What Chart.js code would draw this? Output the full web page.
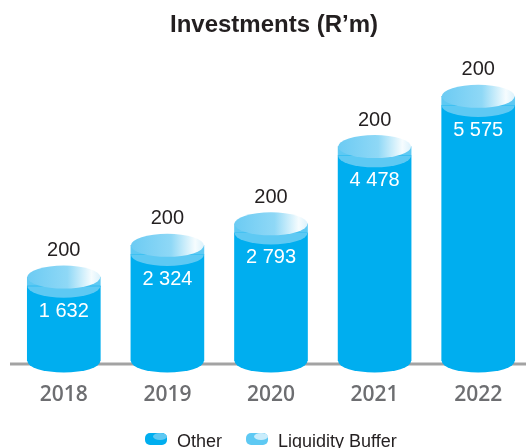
<!DOCTYPE html>
<html>
<head>
<meta charset="utf-8">
<script src="https://cdn.jsdelivr.net/npm/chart.js@4"></script>
<style>
  html,body{margin:0;padding:0;overflow:hidden;background:#fff;}
  #wrap{width:530px;height:448px;}
</style>
</head>
<body>
<div id="wrap"><canvas id="chart" width="530" height="448"></canvas></div>
<script>
const years=['2018','2019','2020','2021','2022'];
const otherValues=[1632,2324,2793,4478,5575];
const bufferValues=[200,200,200,200,200];
const seriesNames=['Other','Liquidity Buffer'];

const dark='#00aeef';
const light='#5ec9f3';
const RY=11.5;

function fmt(n){
    return String(n).replace(/\B(?=(\d{3})+(?!\d))/g,' ');
}

function faceGradient(ctx,x0,x1){
    const g=ctx.createLinearGradient(x0,0,x1,0);
    g.addColorStop(0,'#6ccbf3');
    g.addColorStop(0.55,'#8fd8f6');
    g.addColorStop(0.88,'#f6fcfe');
    g.addColorStop(1,'#dcf2fc');
    return g;
}

// little cylinder used as legend key
function drawKey(ctx,x,y,body,cap){
    ctx.fillStyle=body;
    ctx.beginPath();
    ctx.roundRect(x,y,22,12,5);
    ctx.fill();
    ctx.fillStyle=cap;
    ctx.beginPath();
    ctx.ellipse(x+15,y+3.5,7,3.5,0,0,Math.PI*2);
    ctx.fill();
}

const cylinders={
    id:'cylinders',
    beforeDatasetsDraw(chart){
        const ctx=chart.ctx;
        const y0=chart.scales.y.getPixelForValue(0);
        ctx.save();
        ctx.strokeStyle='#a3a3a3';
        ctx.lineWidth=3;
        ctx.beginPath();
        ctx.moveTo(10,y0+3);
        ctx.lineTo(chart.width,y0+3);
        ctx.stroke();
        ctx.restore();
    },
    afterDatasetsDraw(chart){
        const ctx=chart.ctx;
        const lower=chart.getDatasetMeta(0).data;
        const upper=chart.getDatasetMeta(1).data;
        ctx.save();
        lower.forEach((bar,i)=>{
            const top=upper[i];
            const rx=bar.width/2;
            // bottom rim
            ctx.fillStyle=dark;
            ctx.beginPath();
            ctx.ellipse(bar.x,bar.base,rx,RY,0,0,Math.PI);
            ctx.fill();
            // rim of the buffer band
            ctx.fillStyle=light;
            ctx.beginPath();
            ctx.ellipse(bar.x,bar.y,rx,RY,0,0,Math.PI);
            ctx.fill();
            // top face
            ctx.fillStyle=faceGradient(ctx,top.x-rx,top.x+rx);
            ctx.beginPath();
            ctx.ellipse(top.x,top.y,rx,RY,0,0,Math.PI*2);
            ctx.fill();

            ctx.textAlign='center';
            ctx.textBaseline='middle';
            ctx.font='20px "Liberation Sans", Arial, sans-serif';
            ctx.fillStyle='#231f20';
            ctx.fillText(fmt(bufferValues[i]),top.x,top.y-RY-15);
            ctx.fillStyle='#ffffff';
            ctx.fillText(fmt(otherValues[i]),top.x,top.y+34);

            ctx.font='600 21px "Open Sans", sans-serif';
            ctx.fillStyle='#6d6e71';
            ctx.fillText(years[i],bar.x,395);
        });
        ctx.restore();
    },
    afterDraw(chart){
        const ctx=chart.ctx;
        ctx.save();
        ctx.fillStyle='#231f20';
        ctx.textAlign='center';
        ctx.textBaseline='alphabetic';
        ctx.font='bold 24px "Liberation Sans", Arial, sans-serif';
        ctx.fillText('Investments (R\u2019m)',274,32);

        // legend
        ctx.font='18px "Liberation Sans", Arial, sans-serif';
        ctx.textAlign='left';
        let x=145;
        const keys=[[dark,'#5fc8f2'],[light,'#c9ecfb']];
        seriesNames.forEach((name,i)=>{
            drawKey(ctx,x,433,keys[i][0],keys[i][1]);
            x+=32;
            ctx.fillStyle='#231f20';
            ctx.fillText(name,x,446.5);
            x+=ctx.measureText(name).width+24;
        });
        ctx.restore();
    }
};

new Chart(document.getElementById('chart'),{
    type:'bar',
    data:{
        labels:years,
        datasets:[
            {label:seriesNames[0],data:otherValues,backgroundColor:dark,barThickness:73,borderWidth:0},
            {label:seriesNames[1],data:bufferValues,backgroundColor:light,barThickness:73,borderWidth:0}
        ]
    },
    options:{
        responsive:false,
        animation:false,
        layout:{padding:{top:86,bottom:87,left:12,right:0}},
        plugins:{legend:{display:false},title:{display:false},tooltip:{enabled:false}},
        scales:{
            x:{stacked:true,display:false},
            y:{stacked:true,display:false,min:0,max:6000}
        }
    },
    plugins:[cylinders]
});
</script>
</body>
</html>
